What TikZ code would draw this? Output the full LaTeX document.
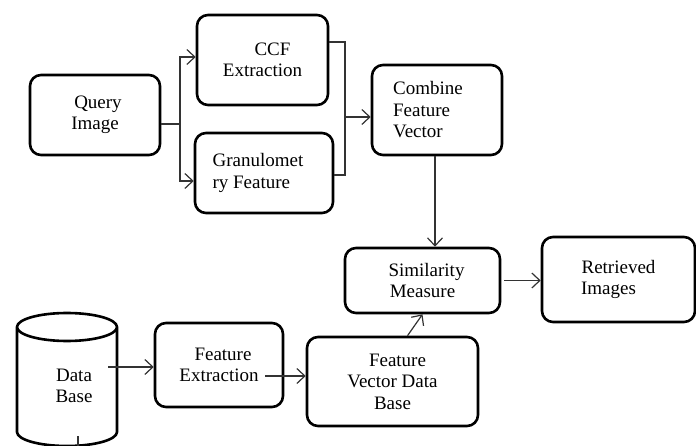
\documentclass[tikz,border=0pt]{standalone}
\usepackage{fontspec}
\setmainfont{Liberation Serif}
\usetikzlibrary{arrows.meta}

\begin{document}
\begin{tikzpicture}[x=1pt,y=-1pt,
  box/.style={draw,line width=2.6pt,rounded corners=11pt,inner sep=0pt,
    font=\fontsize{19}{21.5}\selectfont,align=center},
  lbox/.style={box,align=left},
  arr/.style={line width=1.2pt,draw=black!80,-{Straight Barb[length=8pt,width=15pt,line width=1.2pt]}},
  wire/.style={line width=1.2pt,draw=black!80}]
\useasboundingbox (0,0) rectangle (696,446);
\node[box,minimum width=130pt,minimum height=80pt] (q) at (95,115) {\hspace*{6pt}Query\\Image};
\node[box,minimum width=131pt,minimum height=90pt] (ccf) at (262.5,60) {\hspace*{20pt}CCF\\Extraction};
\node[lbox,minimum width=138pt,minimum height=80pt] (gran) at (264,173) {\hspace*{-12pt}Granulomet\\\hspace*{-12pt}ry Feature};
\node[lbox,minimum width=130pt,minimum height=90pt] (comb) at (437,110) {Combine\hspace*{18pt}\\Feature\\Vector};
\node[box,minimum width=155pt,minimum height=65pt] (sim) at (422.5,280.5) {\hspace*{8pt}Similarity\\Measure};
\node[box,minimum width=153pt,minimum height=85pt] (ret) at (618.5,279.5) {Retrieved\\\hspace*{-20pt}Images};
\node[box,minimum width=128pt,minimum height=84pt] (fe) at (219,365) {\hspace*{8pt}Feature\\Extraction};
\node[box,minimum width=171pt,minimum height=89pt] (fvdb) at (392.5,381.5) {\hspace*{10pt}Feature\\Vector Data\\Base};
\draw[line width=2.6pt] (17,327) -- (17,432) arc[start angle=180,end angle=360,x radius=50,y radius=-14] -- (117,327)
  (67,327) ellipse[x radius=50,y radius=14];
\node[font=\fontsize{19}{21.5}\selectfont,align=center] (db) at (74,386) {Data\\Base};
\coordinate (qs) at (180,124);
\coordinate (cm) at (345,117);
\coordinate (dbo) at (108,367);
\coordinate (feo) at (265,376);
\coordinate (dbs) at (78,436);
\draw[wire] ([yshift=-9pt]q.east) -- (qs);
\draw[arr] (qs) |- ([yshift=3pt]ccf.west);
\draw[arr] (qs) |- ([yshift=-8pt]gran.west);
\draw[wire] ([yshift=18pt]ccf.east) -| (cm) |- ([yshift=-2pt]gran.east);
\draw[arr] (cm) -- (comb.west |- cm);
\draw[arr] ([xshift=-2pt]comb.south) -- ([xshift=12.5pt]sim.north);
\draw[arr] ([xshift=3pt]sim.east) -- (ret.west |- sim.east);
\draw[arr] (dbo) -- (fe.west |- dbo);
\draw[arr] (feo) -- (fvdb.west |- feo);
\draw[arr] ([xshift=15pt]fvdb.north) -- (sim.south);
\draw[wire] (dbs) -- ++(0,12);
\end{tikzpicture}
\end{document}
